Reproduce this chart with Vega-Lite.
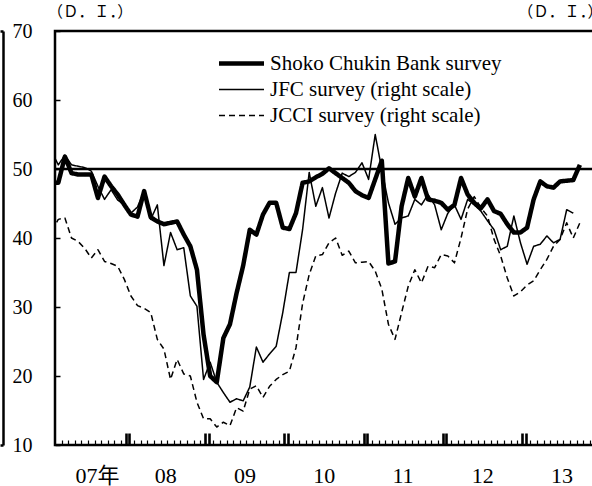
{
  "$schema": "https://vega.github.io/schema/vega-lite/v6.json",
  "width": 548,
  "height": 414,
  "autosize": {"type": "none"},
  "padding": {"left": 55, "top": 31, "right": 0, "bottom": 41},
  "background": "white",
  "title": {
    "text": "（Ｄ．Ｉ．）", "anchor": "end", "orient": "top", "frame": "group", "offset": -16,
    "font": "Noto Sans CJK JP", "fontSize": 15.5, "fontWeight": "normal", "color": "black"
  },
  "config": {
    "view": {"stroke": "black", "strokeWidth": 2.5},
    "font": "Liberation Serif",
    "axis": {"labelColor": "black", "titleColor": "black", "tickColor": "black", "grid": false}
  },
  "resolve": {"axis": {"y": "independent"}},
  "layer": [
    {
      "data": {"values": [{"ref": 50}]},
      "mark": {"type": "rule", "color": "black", "strokeWidth": 2.5},
      "encoding": {
        "y": {
          "field": "ref", "type": "quantitative",
          "scale": {"domain": [10, 70], "nice": false, "zero": false},
          "axis": {
            "orient": "left", "offset": 52, "labels": false, "title": null,
            "values": [10, 70], "ticks": true, "tickSize": 3, "tickWidth": 2.5,
            "domain": true, "domainColor": "black", "domainWidth": 2.5
          }
        }
      }
    },
    {
      "data": {"values": [
        {"m":0,"S":48,"J":52.5,"C":41},
        {"m":1,"S":48,"J":50.6,"C":42.7},
        {"m":2,"S":51.8,"J":52,"C":42.9},
        {"m":3,"S":49.4,"J":50.6,"C":40},
        {"m":4,"S":49.2,"J":50.4,"C":39.5},
        {"m":5,"S":49.2,"J":50.2,"C":38.5},
        {"m":6,"S":49.2,"J":49.7,"C":37.1},
        {"m":7,"S":45.8,"J":47.5,"C":38.3},
        {"m":8,"S":48.9,"J":45.6,"C":36.6},
        {"m":9,"S":47.5,"J":47,"C":36.3},
        {"m":10,"S":46.3,"J":45.5,"C":35.9},
        {"m":11,"S":44.8,"J":44.8,"C":34},
        {"m":12,"S":43.4,"J":43.6,"C":31.6},
        {"m":13,"S":43.1,"J":44.5,"C":30.2},
        {"m":14,"S":46.8,"J":46.8,"C":29.8},
        {"m":15,"S":43,"J":42.7,"C":29.2},
        {"m":16,"S":42.4,"J":44.8,"C":25.3},
        {"m":17,"S":42,"J":36,"C":23.9},
        {"m":18,"S":42.2,"J":40.8,"C":19.5},
        {"m":19,"S":42.4,"J":38.3,"C":22.4},
        {"m":20,"S":40.5,"J":38.6,"C":20.3},
        {"m":21,"S":38.8,"J":31.6,"C":20},
        {"m":22,"S":35.4,"J":30.1,"C":16.2},
        {"m":23,"S":26,"J":19.5,"C":13.8},
        {"m":24,"S":20,"J":22,"C":13.8},
        {"m":25,"S":19.1,"J":19.1,"C":12.6},
        {"m":26,"S":25.5,"J":17.6,"C":13.3},
        {"m":27,"S":27.5,"J":16.2,"C":12.8},
        {"m":28,"S":32,"J":16.7,"C":15.4},
        {"m":29,"S":36,"J":16.4,"C":14.9},
        {"m":30,"S":41.2,"J":18.4,"C":18.1},
        {"m":31,"S":40.5,"J":24.2,"C":18.6},
        {"m":32,"S":43.4,"J":22,"C":16.9},
        {"m":33,"S":45.1,"J":23.2,"C":18.5},
        {"m":34,"S":45.1,"J":24.3,"C":19.5},
        {"m":35,"S":41.5,"J":29.2,"C":20.2},
        {"m":36,"S":41.3,"J":35,"C":20.7},
        {"m":37,"S":43.6,"J":35,"C":24.1},
        {"m":38,"S":48,"J":41.2,"C":30.5},
        {"m":39,"S":48.2,"J":49.5,"C":34.7},
        {"m":40,"S":48.8,"J":44.6,"C":37.4},
        {"m":41,"S":49.3,"J":47.3,"C":37.6},
        {"m":42,"S":50.1,"J":42.9,"C":39.3},
        {"m":43,"S":49.4,"J":46.5,"C":40},
        {"m":44,"S":48.7,"J":49.4,"C":37.5},
        {"m":45,"S":48,"J":48.9,"C":38.1},
        {"m":46,"S":46.8,"J":49.5,"C":36.4},
        {"m":47,"S":46.2,"J":50.9,"C":36.5},
        {"m":48,"S":45.8,"J":48.5,"C":36.6},
        {"m":49,"S":48.5,"J":55,"C":35.2},
        {"m":50,"S":51.2,"J":49.9,"C":32.6},
        {"m":51,"S":36.3,"J":45.1,"C":27.5},
        {"m":52,"S":36.6,"J":42,"C":25.3},
        {"m":53,"S":44.6,"J":42.9,"C":29.2},
        {"m":54,"S":48.7,"J":43.2,"C":33},
        {"m":55,"S":46,"J":45.6,"C":35.4},
        {"m":56,"S":48.7,"J":44.8,"C":33.5},
        {"m":57,"S":45.6,"J":46.3,"C":35.9},
        {"m":58,"S":45.4,"J":44.8,"C":35.7},
        {"m":59,"S":45.1,"J":41.2,"C":37.6},
        {"m":60,"S":44.1,"J":43.6,"C":37.4},
        {"m":61,"S":44.8,"J":44.8,"C":36.4},
        {"m":62,"S":48.7,"J":42.7,"C":40},
        {"m":63,"S":46.3,"J":45.6,"C":44.2},
        {"m":64,"S":45.1,"J":44.8,"C":46},
        {"m":65,"S":44.3,"J":43.9,"C":44.4},
        {"m":66,"S":45.6,"J":42.5,"C":43.2},
        {"m":67,"S":43.9,"J":41.2,"C":39.8},
        {"m":68,"S":43.5,"J":38.3,"C":37.4},
        {"m":69,"S":42,"J":38.8,"C":34.2},
        {"m":70,"S":40.8,"J":43.2,"C":31.6},
        {"m":71,"S":40.8,"J":39.3,"C":32.2},
        {"m":72,"S":41.5,"J":36.2,"C":33.2},
        {"m":73,"S":45.6,"J":38.8,"C":33.8},
        {"m":74,"S":48.2,"J":39.1,"C":35.4},
        {"m":75,"S":47.5,"J":40.3,"C":36.9},
        {"m":76,"S":47.3,"J":39.3,"C":38.8},
        {"m":77,"S":48.2,"J":39.8,"C":39.8},
        {"m":78,"S":48.3,"J":44.1,"C":42.2},
        {"m":79,"S":48.4,"J":43.6,"C":40},
        {"m":80,"S":50.6,"C":42.2}
      ]},
      "transform": [{"fold": ["S", "J", "C"], "as": ["key", "v"]}],
      "mark": {"type": "line", "color": "black", "clip": true, "strokeJoin": "round"},
      "encoding": {
        "x": {
          "field": "m", "type": "quantitative",
          "scale": {"domain": [0.5, 83.5], "nice": false, "zero": false},
          "axis": {
            "orient": "bottom", "title": null, "domain": false, "grid": false,
            "values": [1.5,2.5,3.5,4.5,5.5,6.5,7.5,8.5,9.5,10.5,11.23,11.77,12.5,13.5,14.5,15.5,16.5,17.5,18.5,19.5,20.5,21.5,22.5,23.23,23.77,24.5,25.5,26.5,27.5,28.5,29.5,30.5,31.5,32.5,33.5,34.5,35.23,35.77,36.5,37.5,38.5,39.5,40.5,41.5,42.5,43.5,44.5,45.5,46.5,47.23,47.77,48.5,49.5,50.5,51.5,52.5,53.5,54.5,55.5,56.5,57.5,58.5,59.23,59.77,60.5,61.5,62.5,63.5,64.5,65.5,66.5,67.5,68.5,69.5,70.5,71.23,71.77,72.5,73.5,74.5,75.5,76.5,77.5,78.5,79.5,80.5,81.5,82.5],
            "tickSize": -12,
            "tickDash": {"condition": {"test": "datum.value % 1 != 0.5", "value": [1, 0]}, "value": [5, 30]},
            "tickWidth": {"condition": {"test": "datum.value % 1 != 0.5", "value": 2.6}, "value": 1.2},
            "labelExpr": "(datum.value - 5.5) % 12 == 0 ? (((datum.value - 5.5) / 12 + 7 < 10 ? '0' : '') + ((datum.value - 5.5) / 12 + 7) + (datum.value == 5.5 ? '年' : '')) : ''",
            "labelFont": "Liberation Serif, Noto Sans CJK JP",
            "labelFontSize": 22,
            "labelAlign": "left",
            "labelOffset": -13,
            "labelBaseline": "middle",
            "labelPadding": 42,
            "labelOverlap": false,
            "labelFlush": false,
            "labelBound": false
          }
        },
        "y": {
          "field": "v", "type": "quantitative",
          "scale": {"domain": [10, 70], "nice": false, "zero": false},
          "axis": {
            "orient": "left", "values": [10, 20, 30, 40, 50, 60, 70],
            "tickSize": -5, "tickWidth": 1.5, "domain": false, "grid": false,
            "labelPadding": 28, "labelFont": "Liberation Serif", "labelFontSize": 20,
            "title": "（Ｄ．Ｉ．）", "titleAngle": 0, "titleX": -8, "titleY": -20,
            "titleAlign": "left", "titleBaseline": "middle",
            "titleFont": "Noto Sans CJK JP", "titleFontSize": 15.5, "titleFontWeight": "normal"
          }
        },
        "strokeDash": {
          "field": "key", "type": "nominal",
          "scale": {"domain": ["S", "J", "C"], "range": [[1, 0], [1, 0], [6, 4]]},
          "legend": {
            "orient": "none", "legendX": 176, "legendY": 22, "title": null,
            "symbolType": "M-4.5,0H4.5", "symbolSize": 100,
            "symbolStrokeColor": "black",
            "symbolStrokeWidth": {"expr": "datum.value == 'S' ? 4.5 : 1.5"},
            "labelFont": "Liberation Serif", "labelFontSize": 21, "labelColor": "black",
            "labelOffset": 18, "rowPadding": 4, "labelLimit": 0,
            "labelExpr": "datum.label == 'S' ? 'Shoko Chukin Bank survey' : datum.label == 'J' ? 'JFC survey (right scale)' : 'JCCI survey (right scale)'"
          }
        },
        "strokeWidth": {"condition": {"test": "datum.key == 'S'", "value": 4.5}, "value": 1.5}
      }
    }
  ]
}
